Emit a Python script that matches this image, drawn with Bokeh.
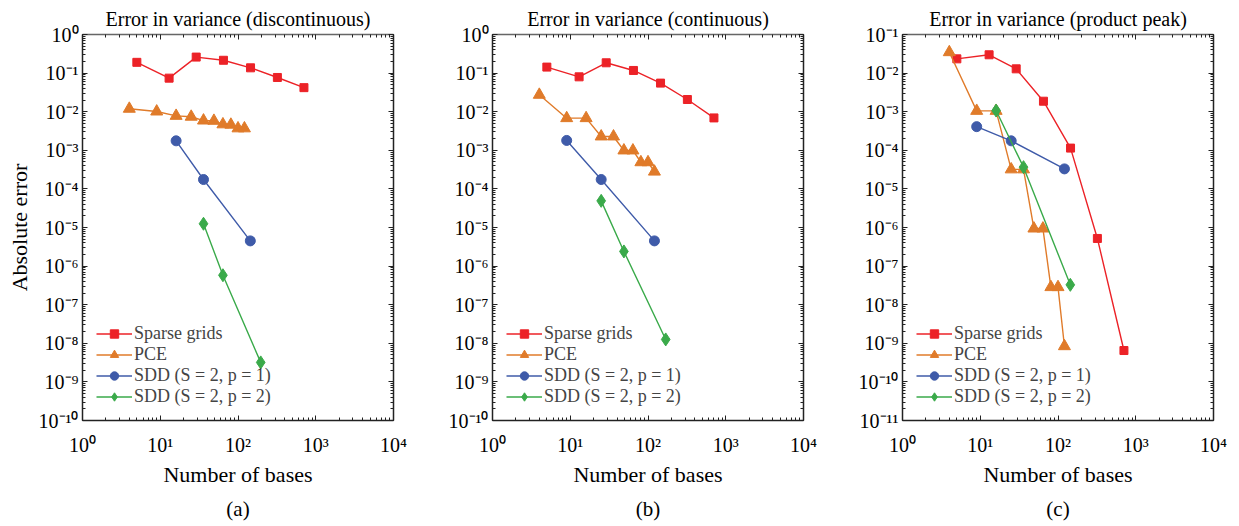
from bokeh.plotting import figure
from bokeh.layouts import row
from bokeh.models import (Range1d, FixedTicker, LogAxis, CustomJSTickFormatter, Title)
from bokeh.embed import file_html
from bokeh.resources import INLINE

# ---------------- data ----------------
sg_x = [5, 13, 29, 65, 145, 321, 705]
pce_x = [4, 9, 16, 25, 36, 49, 64, 81, 100, 121]

sg_a = [0.19, 0.074, 0.26, 0.215, 0.137, 0.077, 0.042]
pce_a = [0.0119, 0.0101, 0.0078, 0.0074, 0.0059, 0.0058, 0.0047, 0.0046, 0.0037, 0.0037]
sdd1_a_x = [16, 36, 144]
sdd1_a = [1.76e-3, 1.75e-4, 4.5e-6]
sdd2_a_x = [36, 64, 196]
sdd2_a = [1.25e-5, 5.8e-7, 3.2e-9]

sg_b = [0.143, 0.080, 0.185, 0.117, 0.055, 0.0207, 0.0069]
pce_b = [0.0274, 0.0068, 0.0068, 0.00228, 0.00228, 9.9e-4, 9.9e-4, 4.9e-4, 4.9e-4, 2.8e-4]
sdd1_b_x = [9, 25, 121]
sdd1_b = [1.8e-3, 1.75e-4, 4.5e-6]
sdd2_b_x = [25, 49, 169]
sdd2_b = [4.9e-5, 2.4e-6, 1.26e-8]

sg_c = [0.0234, 0.0298, 0.0129, 0.00187, 1.14e-4, 5.2e-7, 6.5e-10]
pce_c = [0.0348, 1.05e-3, 1.05e-3, 3.2e-5, 3.2e-5, 9.4e-7, 9.4e-7, 2.85e-8, 2.85e-8, 8.4e-10]
sdd1_c_x = [9, 25, 121]
sdd1_c = [4.1e-4, 1.76e-4, 3.3e-5]
sdd2_c_x = [16, 36, 144]
sdd2_c = [1.07e-3, 3.66e-5, 3.27e-8]

titles = ["Error in variance (discontinuous)",
          "Error in variance (continuous)",
          "Error in variance (product peak)"]
captions = ["(a)", "(b)", "(c)"]
series_labels = ["Sparse grids", "PCE", "SDD (S = 2, p = 1)", "SDD (S = 2, p = 2)"]
x_decades = [0, 1, 2, 3, 4]
y_decades_ab = list(range(-10, 1))
y_decades_c = list(range(-11, 0))

# ---------------- style ----------------
FONT = "Liberation Serif"
COLORS = ["#ec2227", "#e07b2a", "#3f5ba9", "#3aaa4a"]
MARKERS = ["square", "triangle", "circle", "diamond"]
SIZES = [8, 12, 10, 13]

sup_fmt = CustomJSTickFormatter(code="""
const sup = {'0':'\u2070','1':'\u00b9','2':'\u00b2','3':'\u00b3','4':'\u2074','5':'\u2075',
             '6':'\u2076','7':'\u2077','8':'\u2078','9':'\u2079','-':'\u207b'};
const e = Math.round(Math.log10(tick));
return '10' + String(e).split('').map(c => sup[c]).join('');
""")
empty_fmt = CustomJSTickFormatter(code="return '';")


def minor_of(decs):
    out = []
    for d in decs[:-1]:
        for m in range(2, 10):
            out.append(m * 10.0 ** d)
    return out


def style_axis(ax, labels=True):
    ax.major_tick_in = 5
    ax.major_tick_out = 0
    ax.minor_tick_in = 3
    ax.minor_tick_out = 0
    ax.axis_line_color = "#222222"
    ax.axis_line_width = 1.5
    ax.major_tick_line_color = "#222222"
    ax.minor_tick_line_color = "#222222"
    if labels:
        ax.major_label_text_font = FONT
        ax.major_label_text_font_size = "20px"
        ax.major_label_text_color = "black"
        ax.axis_label_text_font = FONT
        ax.axis_label_text_font_size = "22px"
        ax.axis_label_text_font_style = "normal"
        ax.axis_label_text_color = "black"


def make_panel(i, series, ydecs, right_border):
    p = figure(x_axis_type="log", y_axis_type="log",
               x_range=Range1d(10.0 ** x_decades[0], 10.0 ** x_decades[-1]),
               y_range=Range1d(10.0 ** ydecs[0], 10.0 ** ydecs[-1]),
               frame_width=311, frame_height=386,
               min_border_left=82, min_border_right=right_border,
               min_border_top=33, min_border_bottom=107,
               output_backend="svg", toolbar_location=None,
               background_fill_color="white", border_fill_color="white")
    p.grid.visible = False
    p.outline_line_color = "#222222"
    p.title.text = titles[i]
    p.title.align = "center"
    p.title.text_font = FONT
    p.title.text_font_size = "20px"
    p.title.text_font_style = "normal"
    p.title.text_color = "black"

    xt = FixedTicker(ticks=[10.0 ** d for d in x_decades], minor_ticks=minor_of(x_decades))
    yt = FixedTicker(ticks=[10.0 ** d for d in ydecs], minor_ticks=minor_of(ydecs))

    p.xaxis.ticker = xt
    p.yaxis.ticker = yt
    p.xaxis.formatter = sup_fmt
    p.yaxis.formatter = sup_fmt
    p.xaxis.axis_label = "Number of bases"
    p.xaxis.major_label_standoff = 13
    p.xaxis.axis_label_standoff = 3
    p.yaxis.major_label_standoff = 4
    p.yaxis.axis_label_standoff = 4
    if i == 0:
        p.yaxis.axis_label = "Absolute error"
    for ax in p.xaxis + p.yaxis:
        style_axis(ax)

    top = LogAxis(ticker=FixedTicker(ticks=[10.0 ** d for d in x_decades], minor_ticks=minor_of(x_decades)),
                  formatter=empty_fmt, major_label_standoff=0)
    right = LogAxis(ticker=FixedTicker(ticks=[10.0 ** d for d in ydecs], minor_ticks=minor_of(ydecs)),
                    formatter=empty_fmt, major_label_standoff=0)
    style_axis(top, labels=False)
    style_axis(right, labels=False)
    top.axis_line_color = "#666666"
    p.add_layout(top, "above")
    p.add_layout(right, "right")

    for k, (xs, ys) in enumerate(series):
        p.line(xs, ys, line_color=COLORS[k], line_width=1.4, legend_label=series_labels[k])
        p.scatter(xs, ys, marker=MARKERS[k], size=SIZES[k], fill_color=COLORS[k],
                  line_color=COLORS[k], legend_label=series_labels[k])

    lg = p.legend[0]
    lg.location = (14, 13)
    lg.margin = 0
    lg.padding = 0
    lg.spacing = 0
    lg.border_line_color = None
    lg.background_fill_alpha = 0
    lg.label_text_font = FONT
    lg.label_text_font_size = "18px"
    lg.label_height = 21
    lg.glyph_height = 21
    lg.glyph_width = 36
    lg.label_standoff = 2

    cap = Title(text=captions[i], align="center", text_font=FONT, text_font_size="21px",
                text_font_style="normal", text_color="black", standoff=11)
    p.add_layout(cap, "below")
    return p


p1 = make_panel(0, [(sg_x, sg_a), (pce_x, pce_a), (sdd1_a_x, sdd1_a), (sdd2_a_x, sdd2_a)],
                y_decades_ab, 17)
p2 = make_panel(1, [(sg_x, sg_b), (pce_x, pce_b), (sdd1_b_x, sdd1_b), (sdd2_b_x, sdd2_b)],
                y_decades_ab, 17)
p3 = make_panel(2, [(sg_x, sg_c), (pce_x, pce_c), (sdd1_c_x, sdd1_c), (sdd2_c_x, sdd2_c)],
                y_decades_c, 26)

layout = row(p1, p2, p3)
open("out.html", "w").write(file_html(layout, INLINE))
